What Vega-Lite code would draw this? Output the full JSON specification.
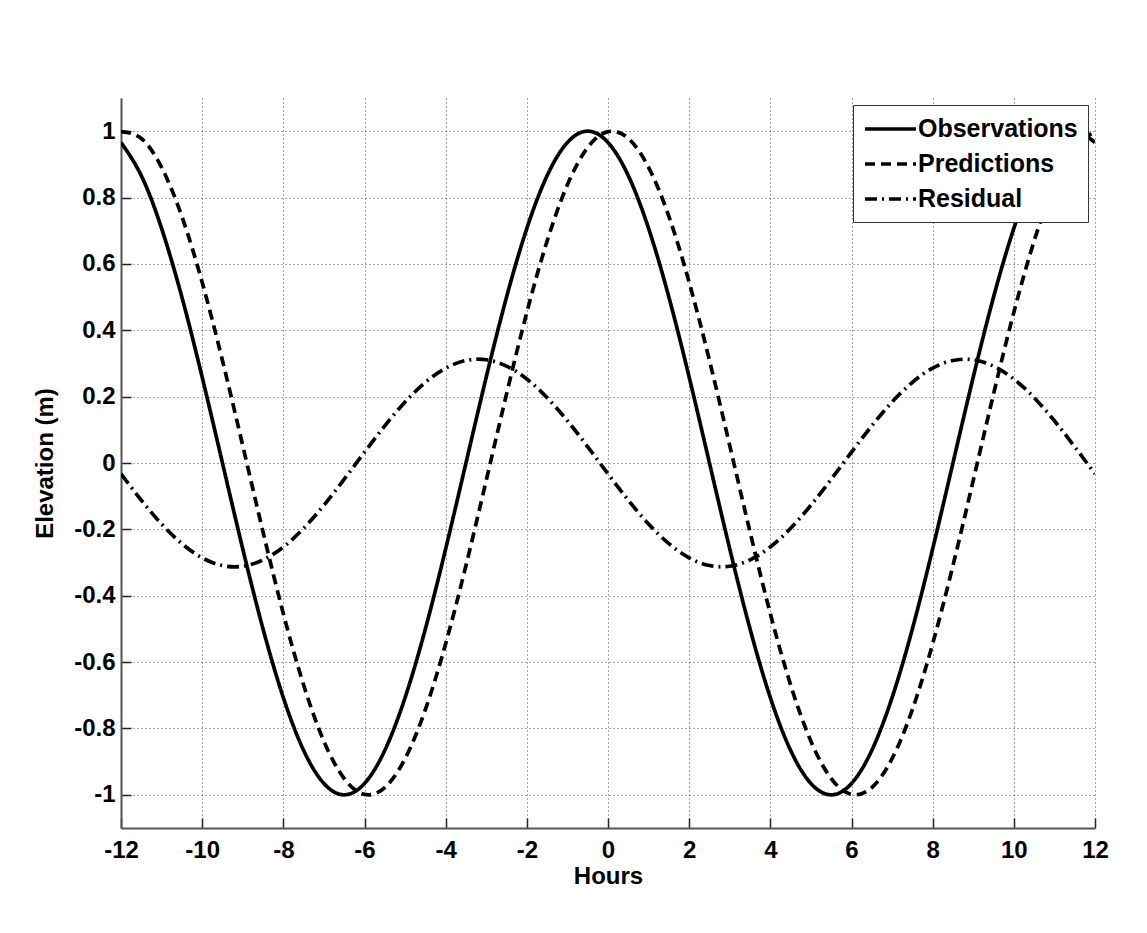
{
  "$schema": "https://vega.github.io/schema/vega-lite/v6.json",
  "width": 974,
  "height": 730,
  "autosize": {"type": "none"},
  "padding": {"left": 121, "top": 98, "right": 52, "bottom": 105},
  "background": "white",
  "data": {
    "values": [
      {"t": -12, "Observations": 0.9659, "Predictions": 0.9986, "Residual": -0.0327},
      {"t": -11.5, "Observations": 0.866, "Predictions": 0.9781, "Residual": -0.1121},
      {"t": -11, "Observations": 0.7071, "Predictions": 0.891, "Residual": -0.1839},
      {"t": -10.5, "Observations": 0.5, "Predictions": 0.7431, "Residual": -0.2431},
      {"t": -10, "Observations": 0.2588, "Predictions": 0.5446, "Residual": -0.2858},
      {"t": -9.5, "Observations": 0, "Predictions": 0.309, "Residual": -0.309},
      {"t": -9, "Observations": -0.2588, "Predictions": 0.0523, "Residual": -0.3111},
      {"t": -8.5, "Observations": -0.5, "Predictions": -0.2079, "Residual": -0.2921},
      {"t": -8, "Observations": -0.7071, "Predictions": -0.454, "Residual": -0.2531},
      {"t": -7.5, "Observations": -0.866, "Predictions": -0.6691, "Residual": -0.1969},
      {"t": -7, "Observations": -0.9659, "Predictions": -0.8387, "Residual": -0.1272},
      {"t": -6.5, "Observations": -1, "Predictions": -0.9511, "Residual": -0.0489},
      {"t": -6, "Observations": -0.9659, "Predictions": -0.9986, "Residual": 0.0327},
      {"t": -5.5, "Observations": -0.866, "Predictions": -0.9781, "Residual": 0.1121},
      {"t": -5, "Observations": -0.7071, "Predictions": -0.891, "Residual": 0.1839},
      {"t": -4.5, "Observations": -0.5, "Predictions": -0.7431, "Residual": 0.2431},
      {"t": -4, "Observations": -0.2588, "Predictions": -0.5446, "Residual": 0.2858},
      {"t": -3.5, "Observations": 0, "Predictions": -0.309, "Residual": 0.309},
      {"t": -3, "Observations": 0.2588, "Predictions": -0.0523, "Residual": 0.3111},
      {"t": -2.5, "Observations": 0.5, "Predictions": 0.2079, "Residual": 0.2921},
      {"t": -2, "Observations": 0.7071, "Predictions": 0.454, "Residual": 0.2531},
      {"t": -1.5, "Observations": 0.866, "Predictions": 0.6691, "Residual": 0.1969},
      {"t": -1, "Observations": 0.9659, "Predictions": 0.8387, "Residual": 0.1272},
      {"t": -0.5, "Observations": 1, "Predictions": 0.9511, "Residual": 0.0489},
      {"t": 0, "Observations": 0.9659, "Predictions": 0.9986, "Residual": -0.0327},
      {"t": 0.5, "Observations": 0.866, "Predictions": 0.9781, "Residual": -0.1121},
      {"t": 1, "Observations": 0.7071, "Predictions": 0.891, "Residual": -0.1839},
      {"t": 1.5, "Observations": 0.5, "Predictions": 0.7431, "Residual": -0.2431},
      {"t": 2, "Observations": 0.2588, "Predictions": 0.5446, "Residual": -0.2858},
      {"t": 2.5, "Observations": 0, "Predictions": 0.309, "Residual": -0.309},
      {"t": 3, "Observations": -0.2588, "Predictions": 0.0523, "Residual": -0.3111},
      {"t": 3.5, "Observations": -0.5, "Predictions": -0.2079, "Residual": -0.2921},
      {"t": 4, "Observations": -0.7071, "Predictions": -0.454, "Residual": -0.2531},
      {"t": 4.5, "Observations": -0.866, "Predictions": -0.6691, "Residual": -0.1969},
      {"t": 5, "Observations": -0.9659, "Predictions": -0.8387, "Residual": -0.1272},
      {"t": 5.5, "Observations": -1, "Predictions": -0.9511, "Residual": -0.0489},
      {"t": 6, "Observations": -0.9659, "Predictions": -0.9986, "Residual": 0.0327},
      {"t": 6.5, "Observations": -0.866, "Predictions": -0.9781, "Residual": 0.1121},
      {"t": 7, "Observations": -0.7071, "Predictions": -0.891, "Residual": 0.1839},
      {"t": 7.5, "Observations": -0.5, "Predictions": -0.7431, "Residual": 0.2431},
      {"t": 8, "Observations": -0.2588, "Predictions": -0.5446, "Residual": 0.2858},
      {"t": 8.5, "Observations": 0, "Predictions": -0.309, "Residual": 0.309},
      {"t": 9, "Observations": 0.2588, "Predictions": -0.0523, "Residual": 0.3111},
      {"t": 9.5, "Observations": 0.5, "Predictions": 0.2079, "Residual": 0.2921},
      {"t": 10, "Observations": 0.7071, "Predictions": 0.454, "Residual": 0.2531},
      {"t": 10.5, "Observations": 0.866, "Predictions": 0.6691, "Residual": 0.1969},
      {"t": 11, "Observations": 0.9659, "Predictions": 0.8387, "Residual": 0.1272},
      {"t": 11.5, "Observations": 1, "Predictions": 0.9511, "Residual": 0.0489},
      {"t": 12, "Observations": 0.9659, "Predictions": 0.9986, "Residual": -0.0327}
    ]
  },
  "transform": [
    {"fold": ["Observations", "Predictions", "Residual"], "as": ["series", "value"]}
  ],
  "mark": {"type": "line", "interpolate": "natural", "strokeWidth": 3.7, "color": "black", "strokeCap": "butt", "clip": true},
  "encoding": {
    "x": {
      "field": "t", "type": "quantitative",
      "scale": {"domain": [-12, 12], "nice": false, "zero": false},
      "axis": {
        "title": "Hours",
        "values": [-12, -10, -8, -6, -4, -2, 0, 2, 4, 6, 8, 10, 12],
        "labelExpr": "'' + datum.value",
        "labelFlush": false,
        "labelPadding": 20,
        "titlePadding": 2
      }
    },
    "y": {
      "field": "value", "type": "quantitative",
      "scale": {"domain": [-1.1, 1.1], "nice": false, "zero": false},
      "axis": {
        "title": "Elevation (m)",
        "values": [-1, -0.8, -0.6, -0.4, -0.2, 0, 0.2, 0.4, 0.6, 0.8, 1],
        "labelExpr": "'' + datum.value",
        "labelFlush": false,
        "labelPadding": 16,
        "titlePadding": 16
      }
    },
    "strokeDash": {
      "field": "series", "type": "nominal",
      "scale": {"domain": ["Observations", "Predictions", "Residual"], "range": [[1, 0], [10, 6], [12, 5, 2, 5]]},
      "legend": {"title": null}
    }
  },
  "config": {
    "view": {"stroke": null},
    "font": "Liberation Sans",
    "axis": {
      "labelFont": "Liberation Sans", "labelFontWeight": "bold", "labelFontSize": 24, "labelColor": "black",
      "titleFont": "Liberation Sans", "titleFontWeight": "bold", "titleFontSize": 24, "titleColor": "black",
      "domainColor": "#555555", "domainWidth": 2,
      "tickColor": "#222222", "tickSize": -10, "tickWidth": 1.5,
      "grid": true, "gridColor": "#000000", "gridOpacity": 0.7, "gridDash": [1, 3], "gridWidth": 1
    },
    "legend": {
      "orient": "top-right", "offset": 7,
      "fillColor": "white", "strokeColor": "#333333", "padding": 10,
      "labelFont": "Liberation Sans", "labelFontWeight": "bold", "labelFontSize": 25, "labelColor": "black",
      "labelLimit": 400, "labelOffset": 27,
      "symbolType": "M-1,0H3.25", "symbolSize": 576, "symbolStrokeWidth": 3.5, "symbolStrokeColor": "black",
      "symbolFillColor": "transparent",
      "rowPadding": 8
    }
  }
}
